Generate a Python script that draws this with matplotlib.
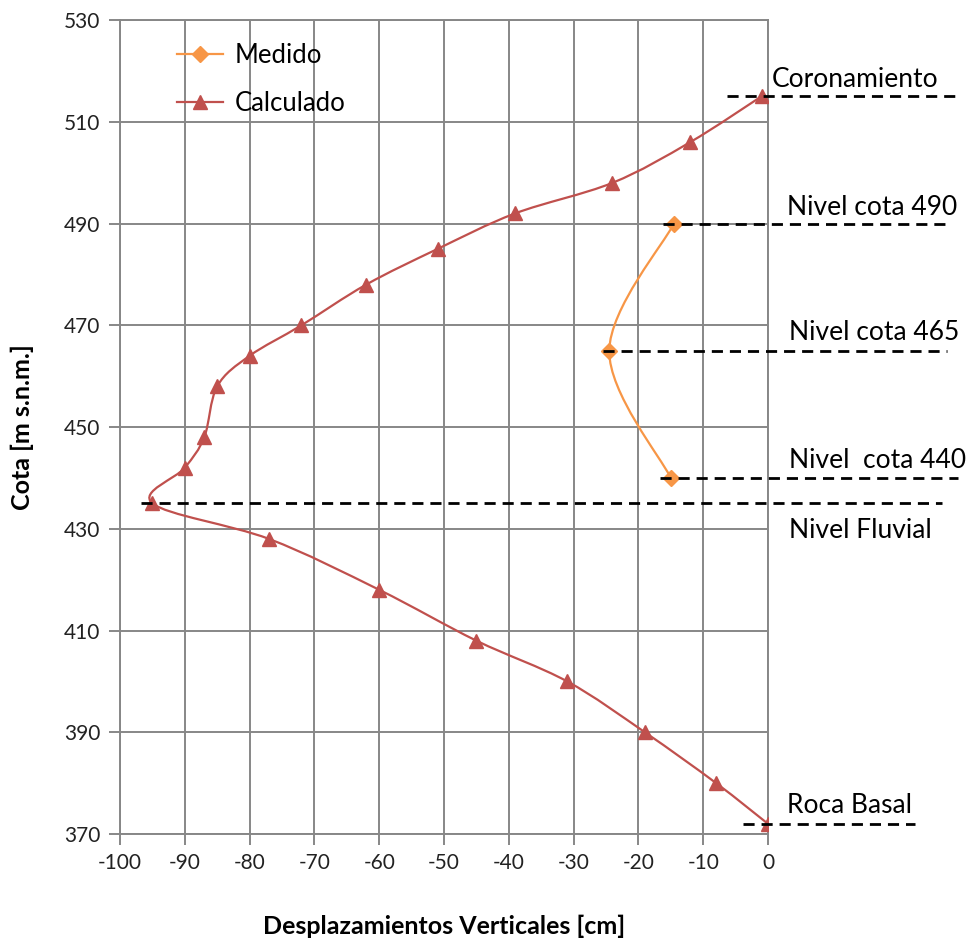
import matplotlib
matplotlib.use("Agg")
import matplotlib.pyplot as plt
from matplotlib.path import Path
from matplotlib.patches import PathPatch
from matplotlib.lines import Line2D
import numpy as np

plt.rcParams['font.family'] = ['Lato', 'DejaVu Sans']
plt.rcParams['axes.unicode_minus'] = False

# data
calc_x = [-1, -12, -24, -39, -51, -62, -72, -80, -85, -87, -90, -95,
          -77, -60, -45, -31, -19, -8, 0]
calc_y = [515, 506, 498, 492, 485, 478, 470, 464, 458, 448, 442, 435,
          428, 418, 408, 400, 390, 380, 372]
med_x = [-14.5, -24.5, -15]
med_y = [490, 465, 440]

level_names = ['Coronamiento', 'Nivel cota 490', 'Nivel cota 465',
               'Nivel  cota 440', 'Nivel Fluvial', 'Roca Basal']
level_y = [515, 490, 465, 440, 435, 372]

RED = '#C0504D'
ORANGE = '#F79646'
GRID = '#878787'


def smooth_path(xs, ys):
    # Excel-like smoothed line: Catmull-Rom segments as cubic Beziers
    p = np.column_stack([xs, ys]).astype(float)
    n = len(p)
    verts = [p[0]]
    codes = [Path.MOVETO]
    for i in range(n - 1):
        p0 = p[i - 1] if i > 0 else p[i]
        p3 = p[i + 2] if i + 2 < n else p[i + 1]
        c1 = p[i] + (p[i + 1] - p0) / 6.0
        c2 = p[i + 1] - (p3 - p[i]) / 6.0
        verts += [c1, c2, p[i + 1]]
        codes += [Path.CURVE4] * 3
    return Path(verts, codes)


fig = plt.figure(figsize=(9.68, 9.44), dpi=100)
ax = fig.add_axes([0.124, 0.1165, 0.6694, 0.8623])

ax.set_xlim(-100, 0)
ax.set_ylim(370, 530)
ax.set_xticks(np.arange(-100, 1, 10))
ax.set_yticks(np.arange(370, 531, 20))
ax.grid(True, color=GRID, linewidth=1.4)
ax.set_axisbelow(True)
for s in ax.spines.values():
    s.set_color(GRID)
    s.set_linewidth(1.4)
ax.tick_params(direction='out', length=8, width=1.4, color=GRID,
               labelsize=15, labelcolor='#222222', pad=6)

ax.add_patch(PathPatch(smooth_path(calc_x, calc_y), fill=False,
                       edgecolor=RED, linewidth=1.6, zorder=3))
ax.plot(calc_x, calc_y, ls='none', marker='^', markersize=10,
        color=RED, zorder=4)
ax.add_patch(PathPatch(smooth_path(med_x, med_y), fill=False,
                       edgecolor=ORANGE, linewidth=1.6, zorder=3))
ax.plot(med_x, med_y, ls='none', marker='D', markersize=8,
        color=ORANGE, zorder=4)

# reference levels (dashed lines running past the plot edge)
dash_start = [-6.3, -16.2, -25.5, -16.7, -96.8, -3.9]
dash_end = [28.9, 27.3, 27.6, 29.3, 26.9, 22.7]
label_x = [0.6, 2.9, 3.2, 3.2, 3.2, 2.9]
label_y = [518.4, 493.2, 468.5, 443.5, 429.6, 375.7]
for name, y, x0, x1, tx, ty in zip(level_names, level_y, dash_start,
                                   dash_end, label_x, label_y):
    ax.plot([x0, x1], [y, y], color='black', linestyle=(0, (4, 2.5)),
            linewidth=2, clip_on=False, zorder=5)
    ax.text(tx, ty, name, ha='left', va='center', fontsize=19,
            color='black', clip_on=False)

handles = [Line2D([], [], color=ORANGE, marker='D', markersize=8, lw=1.6),
           Line2D([], [], color=RED, marker='^', markersize=10, lw=1.6)]
ax.legend(handles, ['Medido', 'Calculado'], loc='upper left',
          bbox_to_anchor=(0.072, 0.985), frameon=False, fontsize=18.5,
          labelspacing=0.9, handlelength=1.8, handletextpad=0.45,
          borderaxespad=0)

ax.set_xlabel('Desplazamientos Verticales [cm]', fontsize=18,
              fontweight='bold', labelpad=30)
ax.set_ylabel('Cota [m s.n.m.]', fontsize=18, fontweight='bold',
              labelpad=22)

fig.savefig('out.png', dpi=100)
